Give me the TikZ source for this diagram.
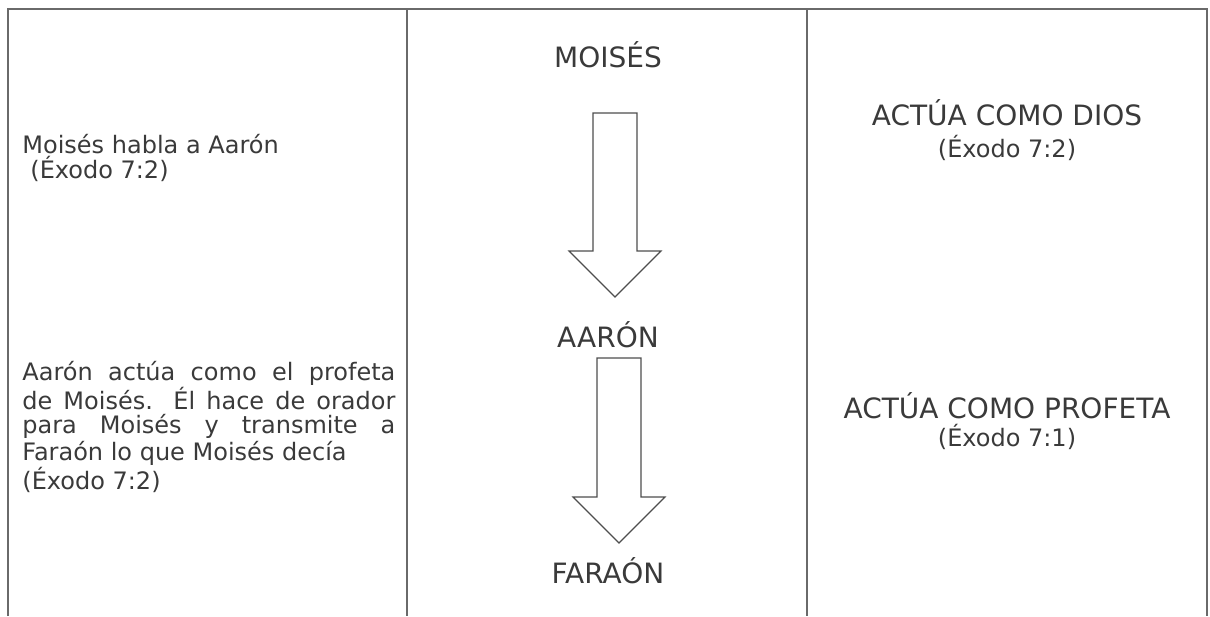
\documentclass[tikz,border=0pt]{standalone}
\usepackage{fontspec}
\setmainfont{DejaVu Sans}
\usepackage{tikz}
\usetikzlibrary{positioning}
\definecolor{texto}{HTML}{3A3A3A}
\definecolor{linea}{HTML}{6A6A6A}
\tikzset{nom/.style={text=texto,inner sep=0,anchor=base,font=\fontsize{14}{17}\selectfont},
  cita/.style={text=texto,inner sep=0,font=\fontsize{12}{12}\selectfont},
  flecha/.style={draw=texto!90,line width=0.6pt,fill=white}}

\begin{document}
\begin{tikzpicture}[x=0.5pt,y=-0.5pt]
        \useasboundingbox (0,0) rectangle (1210,616);
        \draw[linea,line width=0.8pt] (8,616) -- (8,9) -- (1207,9) -- (1207,616);
        \draw[linea,line width=0.8pt] (407,9) -- (407,616);
        \draw[linea,line width=0.8pt] (807,9) -- (807,616);

        \node[nom] (a) at (608,67) {MOISÉS};
        \node[nom] (b) at (608,347) {AARÓN};
        \node[nom] (c) at (608,583) {FARAÓN};

        \node[cita,anchor=base west] (d) at (22,153) {Moisés habla a Aarón};
        \node[cita,anchor=base west] (e) at (30,178) {(Éxodo 7:2)};
        \node[cita,anchor=north west,text width=186.5pt,align=justify] (f) at (22,361)
            {Aarón actúa como el profeta\linebreak de Moisés. Él hace de orador\linebreak para Moisés y transmite a\linebreak Faraón lo que Moisés decía\\(Éxodo 7:2)};

        \node[nom] (g) at (1007,125) {ACTÚA COMO DIOS};
        \node[cita,anchor=base] (h) at (1007,157) {(Éxodo 7:2)};
        \node[nom] (i) at (1007,418) {ACTÚA COMO PROFETA};
        \node[cita,anchor=base] (j) at (1007,446) {(Éxodo 7:1)};

        \coordinate (t1) at (615,113);
        \coordinate (p1) at (615,297);
        \coordinate (t2) at (619,358);
        \coordinate (p2) at (619,543);

        \draw[flecha] (t1) ++(-22,0) -- ++(0,138) -- ++(-24,0) -- (p1) -- ++(46,-46) -- ++(-24,0) -- ++(0,-138) -- cycle;
        \draw[flecha] (t2) ++(-22,0) -- ++(0,139) -- ++(-24,0) -- (p2) -- ++(46,-46) -- ++(-24,0) -- ++(0,-139) -- cycle;
    \end{tikzpicture}
\end{document}
